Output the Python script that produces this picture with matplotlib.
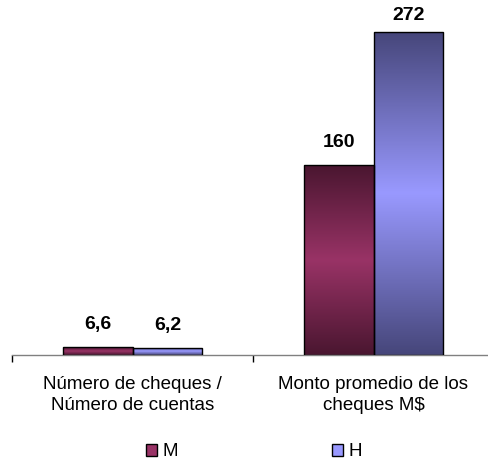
import numpy as np
import matplotlib
matplotlib.use("Agg")
import matplotlib.pyplot as plt
from matplotlib.colors import LinearSegmentedColormap
from matplotlib.patches import Patch

plt.rcParams['font.family'] = ['Liberation Sans', 'DejaVu Sans']

categories = ["Número de cheques /\nNúmero de cuentas", "Monto promedio de los\ncheques M$"]
series_names = ["M", "H"]
values_m = [6.6, 160]
values_h = [6.2, 272]
value_labels_m = ["6,6", "160"]
value_labels_h = ["6,2", "272"]

base_colors = {"M": "#993366", "H": "#9999ff"}
dark_colors = {"M": "#4a1630", "H": "#46467a"}

fig = plt.figure(figsize=(4.88, 4.63), dpi=100)
W, H = 488, 463
# axes: baseline at y=355 px, top at y=20 px, x from 12 to 494 px
ax = fig.add_axes([12 / W, (H - 355) / H, 482 / W, (355 - 20) / H])

x = np.arange(len(categories))
width = 0.29
ymax = 272 * 335 / 323

def gradient_bars(bars, name):
    cmap = LinearSegmentedColormap.from_list(
        name, [dark_colors[name], base_colors[name], dark_colors[name]])
    grad = np.linspace(0, 1, 256).reshape(-1, 1)
    for b in bars:
        x0, y0 = b.get_x(), b.get_y()
        w, h = b.get_width(), b.get_height()
        im = ax.imshow(grad, extent=[x0, x0 + w, y0, y0 + h], aspect='auto',
                       cmap=cmap, origin='lower', zorder=2)
        im.set_clip_path(b)

bars_m = ax.bar(x - width / 2, values_m, width, facecolor='none',
                edgecolor='black', linewidth=1, zorder=3)
bars_h = ax.bar(x + width / 2, values_h, width, facecolor='none',
                edgecolor='black', linewidth=1, zorder=3)
gradient_bars(bars_m, "M")
gradient_bars(bars_h, "H")
ax.set_xlim(-0.5, len(categories) - 0.5)
ax.set_ylim(0, ymax)

top_val = max(values_m + values_h)
for bars, labels in [(bars_m, value_labels_m), (bars_h, value_labels_h)]:
    for b, lab in zip(bars, labels):
        # label of the tallest bar is squeezed down to stay inside the figure
        off = 6 if b.get_height() == top_val else 10
        ax.annotate(lab, (b.get_x() + b.get_width() / 2, b.get_height()),
                    xytext=(0, off), textcoords='offset points', ha='center', va='bottom',
                    fontsize=14, fontweight='bold')

for s in ['top', 'right', 'left']:
    ax.spines[s].set_visible(False)
ax.spines['bottom'].set_color('#808080')
ax.spines['bottom'].set_linewidth(1)
ax.set_yticks([])
ax.set_xticks(x)
ax.set_xticklabels(categories, fontsize=13.5, linespacing=1.3)
ax.tick_params(axis='x', which='major', length=0, pad=15)
ax.set_xticks([-0.5, 0.5, 1.5], minor=True)
ax.tick_params(axis='x', which='minor', length=5, color='black', width=1)

handles = [Patch(facecolor=base_colors[n], edgecolor='black', label=n) for n in series_names]
fig.legend(handles=handles, loc='center', bbox_to_anchor=(254 / W, (H - 452) / H), ncol=2,
           frameon=False, fontsize=13.5, handlelength=0.6, handleheight=0.6,
           handletextpad=0.3, columnspacing=8.2, borderpad=0)

fig.savefig("out.png", dpi=100)
